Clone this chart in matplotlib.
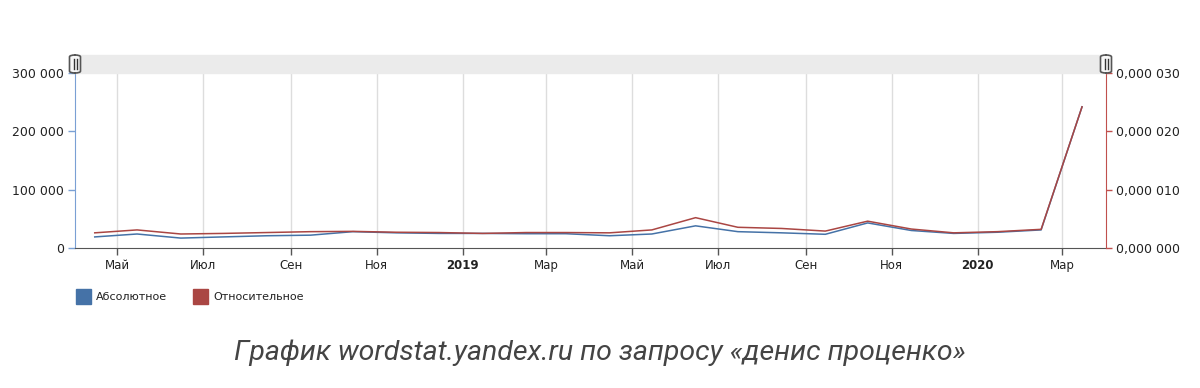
#! /usr/bin/env python3

import datetime as dt
import matplotlib
matplotlib.use('Agg')
import matplotlib.pyplot as plt
import matplotlib.dates as mdates
from matplotlib.ticker import FuncFormatter, FixedLocator
from matplotlib.patches import FancyBboxPatch, Rectangle

# monthly points, Apr 2018 .. Mar 2020
months = [(2018, m) for m in range(4, 13)] + [(2019, m) for m in range(1, 13)] + [(2020, m) for m in range(1, 4)]
absolute = [19000, 24000, 17000, 19000, 21000, 22000, 28000, 26000, 25000,
            25000, 24500, 24500, 21000, 24000, 38000, 28000, 26000, 23500,
            43000, 30000, 25000, 27000, 31000, 242000]
relative = [2.6e-6, 3.1e-6, 2.4e-6, 2.5e-6, 2.65e-6, 2.8e-6, 2.85e-6, 2.7e-6, 2.65e-6,
            2.5e-6, 2.65e-6, 2.65e-6, 2.6e-6, 3.1e-6, 5.2e-6, 3.55e-6, 3.35e-6, 2.9e-6,
            4.6e-6, 3.25e-6, 2.6e-6, 2.8e-6, 3.2e-6, 2.42e-5]
tick_labels = ['Май', 'Июл', 'Сен', 'Ноя', '2019', 'Мар', 'Май', 'Июл', 'Сен', 'Ноя', '2020', 'Мар']
legend_names = ['Абсолютное', 'Относительное']
title = 'График wordstat.yandex.ru по запросу «денис проценко»'

blue = '#4572a7'
red = '#aa4643'
dates = [dt.datetime(y, m, 15) for y, m in months]
tick_dates = []
for i in range(12):
    m = 5 + 2 * i
    y = 2018 + (m - 1) // 12
    m = (m - 1) % 12 + 1
    tick_dates.append(dt.datetime(y, m, 1))

fig = plt.figure(figsize=(12, 3.88), dpi=100)
ax = fig.add_axes([75 / 1200, 1 - 248 / 388, 1031 / 1200, 175 / 388])
ax2 = ax.twinx()

ax.plot(dates, absolute, color=blue, lw=1.1, zorder=3)
ax2.plot(dates, relative, color=red, lw=1.1, zorder=3)

ax.set_xlim(dt.datetime(2018, 4, 1), dt.datetime(2020, 4, 1))
ax.set_ylim(0, 300000)
ax2.set_ylim(0, 0.00003)

ax.xaxis.set_major_locator(FixedLocator(mdates.date2num(tick_dates)))
ax.set_xticklabels(tick_labels)
for lab in ax.get_xticklabels():
    if lab.get_text().isdigit():
        lab.set_fontweight('bold')
ax.grid(axis='x', color='#dddddd', lw=1)
ax.set_axisbelow(True)

ax.set_yticks([0, 100000, 200000, 300000])
ax.yaxis.set_major_formatter(FuncFormatter(lambda v, p: f"{int(v):,}".replace(',', ' ')))
ax2.set_yticks([0, 0.00001, 0.00002, 0.00003])
ax2.yaxis.set_major_formatter(FuncFormatter(
    lambda v, p: (lambda s: s[:5] + ' ' + s[5:])(f"{v:.6f}".replace('.', ','))))

for a in (ax, ax2):
    for s in a.spines.values():
        s.set_visible(False)
ax.spines['left'].set_visible(True)
ax.spines['left'].set_color('#7aa0d4')
ax.spines['bottom'].set_visible(True)
ax.spines['bottom'].set_color('#555555')
ax2.spines['right'].set_visible(True)
ax2.spines['right'].set_color('#c0504d')

ax.tick_params(axis='y', colors='#7aa0d4', labelcolor='#222222', length=5, width=1, labelsize=9, pad=3)
ax2.tick_params(axis='y', colors='#c0504d', labelcolor='#222222', length=4, width=1, labelsize=9, pad=3)
ax.tick_params(axis='x', colors='#555555', labelcolor='#222222', length=5, width=1, labelsize=8.5, pad=3)

# navigator bar with handles
fig.patches.append(Rectangle((75 / 1200, 1 - 73 / 388), 1031 / 1200, 18 / 388,
                             transform=fig.transFigure, color='#ebebeb', zorder=0))
for hx in (75, 1106):
    fig.patches.append(FancyBboxPatch(((hx - 5.5) / 1200, 1 - 73 / 388), 11 / 1200, 18 / 388,
                                      boxstyle='round,pad=0,rounding_size=0.005',
                                      transform=fig.transFigure, fc='#f7f7f7', ec='#555555', lw=1.2, zorder=5))
    for dx in (-1.5, 1.5):
        fig.lines.append(plt.Line2D([(hx + dx) / 1200] * 2, [1 - 69 / 388, 1 - 59 / 388],
                                    transform=fig.transFigure, color='#333333', lw=1, zorder=6))

# legend
for i, (name, col) in enumerate(zip(legend_names, [blue, red])):
    x0 = 76 + 117 * i
    fig.patches.append(Rectangle((x0 / 1200, 1 - 304 / 388), 15 / 1200, 15 / 388,
                                 transform=fig.transFigure, color=col))
    fig.text((x0 + 20) / 1200, 1 - 297 / 388, name, fontsize=8, color='#222222',
             va='center', ha='left')

fig.text(0.5, 1 - 353 / 388, title, fontsize=20.5, style='italic', family='Roboto',
         color='#444444', ha='center', va='center')

plt.savefig('out.png', dpi=100)
